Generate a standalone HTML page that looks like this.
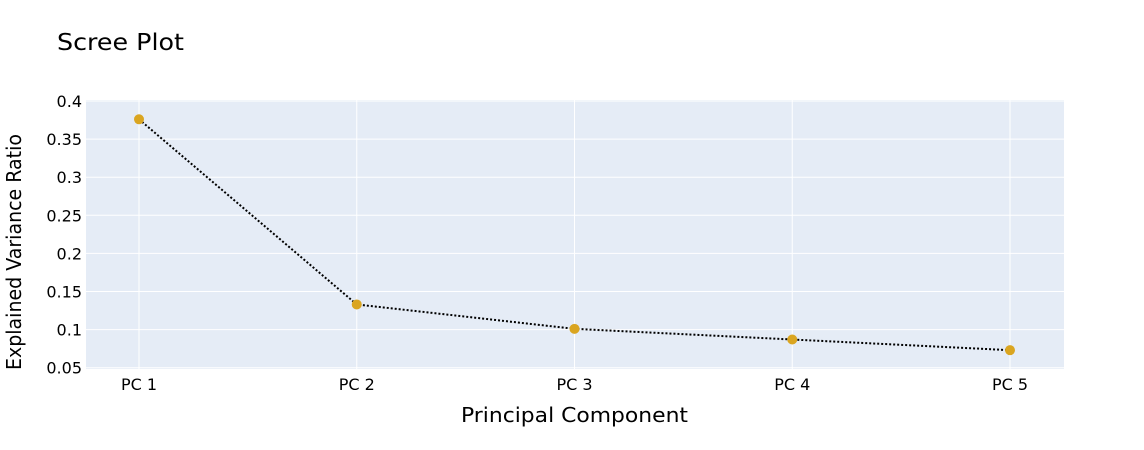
<!DOCTYPE html>
<html><head><meta charset="utf-8"><style>
body{margin:0;background:#fff;}
svg{display:block;font-family:"DejaVu Sans","Liberation Sans",sans-serif;}
</style></head><body>
<svg id="chart" width="1144" height="450">
<rect x="0" y="0" width="1144" height="450" fill="#fff"/>
<text x="57" y="50" font-size="23" fill="#000" textLength="127" lengthAdjust="spacingAndGlyphs">Scree Plot</text>
<rect x="86" y="100" width="978" height="269" fill="#e5ecf6"/>
<g id="grid"></g>
<g id="yticks"></g>
<g id="xticks"></g>
<g id="series"></g>
<text x="461" y="422" font-size="20" fill="#000" textLength="227" lengthAdjust="spacingAndGlyphs">Principal Component</text>
<text transform="translate(21,370) rotate(-90)" font-size="20" fill="#000" textLength="236" lengthAdjust="spacingAndGlyphs">Explained Variance Ratio</text>
</svg>
<script>
const categories = ["PC 1","PC 2","PC 3","PC 4","PC 5"];
const values = [0.376, 0.133, 0.101, 0.087, 0.073];
const yTicks = [0.05,0.1,0.15,0.2,0.25,0.3,0.35,0.4];
const yTickLabels = ["0.05","0.1","0.15","0.2","0.25","0.3","0.35","0.4"];
const NS="http://www.w3.org/2000/svg";
function xs(i){return 139 + i*217.75;}
function ys(v){return 101 + (0.4-v)/0.05*38.1;}
const grid=document.getElementById('grid'),yt=document.getElementById('yticks'),xt=document.getElementById('xticks'),ser=document.getElementById('series');
function mk(tag,attrs,parent){const e=document.createElementNS(NS,tag);for(const k in attrs)e.setAttribute(k,attrs[k]);parent.appendChild(e);return e;}
yTicks.forEach((t,i)=>{
  const l=mk('line',{x1:86,x2:1064,y1:ys(t),y2:ys(t),stroke:'#fff','stroke-width':1},grid);
  
  
  const tx=mk('text',{x:82,y:ys(t)+6,'font-size':16,fill:'#000','text-anchor':'end'},yt);
  tx.textContent=yTickLabels[i];
  
  
});
categories.forEach((c,i)=>{
  const l=mk('line',{x1:xs(i),x2:xs(i),y1:100,y2:369,stroke:'#fff','stroke-width':1},grid);
  
  
  const tx=mk('text',{x:xs(i),y:390,'font-size':16,fill:'#000','text-anchor':'middle'},xt);
  tx.textContent=c;
  
  
});
const pts=values.map((v,i)=>xs(i)+','+ys(v)).join(' ');
const pl=mk('polyline',{points:pts,fill:'none',stroke:'#000','stroke-width':2,'stroke-dasharray':'2,2'},ser);


values.forEach((v,i)=>{
  const c=mk('circle',{cx:xs(i),cy:ys(v),r:5,fill:'#daa520'},ser);
  
  
});
</script>
</body></html>
